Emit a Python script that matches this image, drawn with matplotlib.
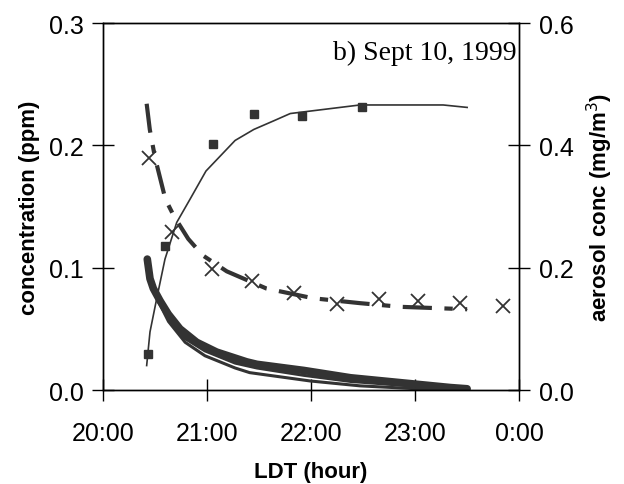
import matplotlib.pyplot as plt

plt.rcParams['font.family'] = ['Liberation Sans', 'DejaVu Sans']

# time in clock hours
hour_ticks = [20, 21, 22, 23, 24]
hour_labels = ["20:00", "21:00", "22:00", "23:00", "0:00"]

# aerosol (right axis, mg/m3)
sq_t = [20.43, 20.60, 21.06, 21.45, 21.91, 22.49]
sq_v = [0.059, 0.236, 0.402, 0.452, 0.448, 0.462]
fit_t = [20.42, 20.452, 20.516, 20.596, 20.709, 20.837, 20.99, 21.27, 21.45, 21.64, 21.80, 22.47, 23.27, 23.50]
fit_v = [0.040, 0.095, 0.149, 0.214, 0.274, 0.312, 0.358, 0.408, 0.426, 0.440, 0.452, 0.466, 0.466, 0.462]

# gas concentrations (left axis, ppm)
x_t = [20.44, 20.66, 21.05, 21.43, 21.84, 22.25, 22.65, 23.03, 23.43, 23.84]
x_v = [0.190, 0.129, 0.099, 0.089, 0.079, 0.070, 0.074, 0.073, 0.071, 0.069]
dash_t = [20.42, 20.45, 20.50, 20.60, 20.68, 20.82, 20.96, 21.19, 21.57, 22.02, 22.47, 22.86, 23.50]
dash_v = [0.234, 0.213, 0.190, 0.156, 0.1425, 0.1235, 0.110, 0.097, 0.083, 0.075, 0.071, 0.068, 0.066]

band_t = [20.426, 20.452, 20.484, 20.548, 20.628, 20.740, 20.901, 21.093, 21.382, 21.48, 21.93, 22.38, 22.86, 23.34, 23.50]
band_v = [0.107, 0.091, 0.083, 0.073, 0.062, 0.050, 0.039, 0.031, 0.023, 0.021, 0.016, 0.010, 0.006, 0.002, 0.001]
mod1_t = [20.50, 20.63, 20.79, 20.98, 21.27, 21.41, 21.99, 22.47, 23.02, 23.40]
mod1_v = [0.078, 0.056, 0.039, 0.028, 0.0180, 0.0142, 0.0074, 0.0034, 0.001, 0.0005]
mod2_t = [20.50, 20.63, 20.79, 20.98, 21.27, 21.48, 21.93, 22.38, 22.86, 23.34]
mod2_v = [0.080, 0.059, 0.042, 0.032, 0.022, 0.018, 0.012, 0.007, 0.004, 0.001]

col = "#333333"

fig = plt.figure(figsize=(6.24, 4.85), dpi=100)
ax = fig.add_axes([0.165, 0.1938, 0.667, 0.7567])
ax2 = ax.twinx()

ax.plot(band_t, band_v, color=col, lw=5.5, solid_capstyle="round", solid_joinstyle="round")
ax.plot(mod2_t, mod2_v, color=col, lw=2.2)
ax.plot(mod1_t, mod1_v, color=col, lw=2.2)
ax.plot(dash_t, dash_v, color=col, lw=3, dashes=(7, 3, 2, 3))
ax.plot(x_t, x_v, ls="none", marker="x", ms=10, mew=1.3, color=col)

ax2.plot(fit_t, fit_v, color=col, lw=1.2)
ax2.plot(sq_t, sq_v, ls="none", marker="s", ms=6, color=col)

ax.set_xlim(20, 24)
ax.set_ylim(0, 0.3)
ax2.set_ylim(0, 0.6)
ax.set_xticks(hour_ticks)
ax.set_xticklabels(hour_labels)
ax.set_yticks([0, 0.1, 0.2, 0.3])
ax.set_yticklabels(["0.0", "0.1", "0.2", "0.3"])
ax2.set_yticks([0, 0.2, 0.4, 0.6])
ax2.set_yticklabels(["0.0", "0.2", "0.4", "0.6"])

ax.tick_params(axis="both", direction="inout", length=16, width=1, labelsize=18)
ax.tick_params(axis="x", pad=14)
ax.tick_params(axis="y", pad=6)
ax2.tick_params(axis="y", direction="inout", length=16, width=1, labelsize=18, pad=6)

for a in (ax, ax2):
    for s in a.spines.values():
        s.set_linewidth(1)

ax.set_xlabel("LDT (hour)", fontsize=16, fontweight="bold", labelpad=12)
ax.set_ylabel("concentration (ppm)", fontsize=16, fontweight="bold", labelpad=6)
ax2.set_ylabel("aerosol conc (mg/m$^3$)", fontsize=16, fontweight="bold", labelpad=8)

ax.text(0.995, 0.955, "b) Sept 10, 1999", transform=ax.transAxes, ha="right", va="top",
        fontsize=20, family="Liberation Serif")

fig.savefig("out.png", dpi=100)
